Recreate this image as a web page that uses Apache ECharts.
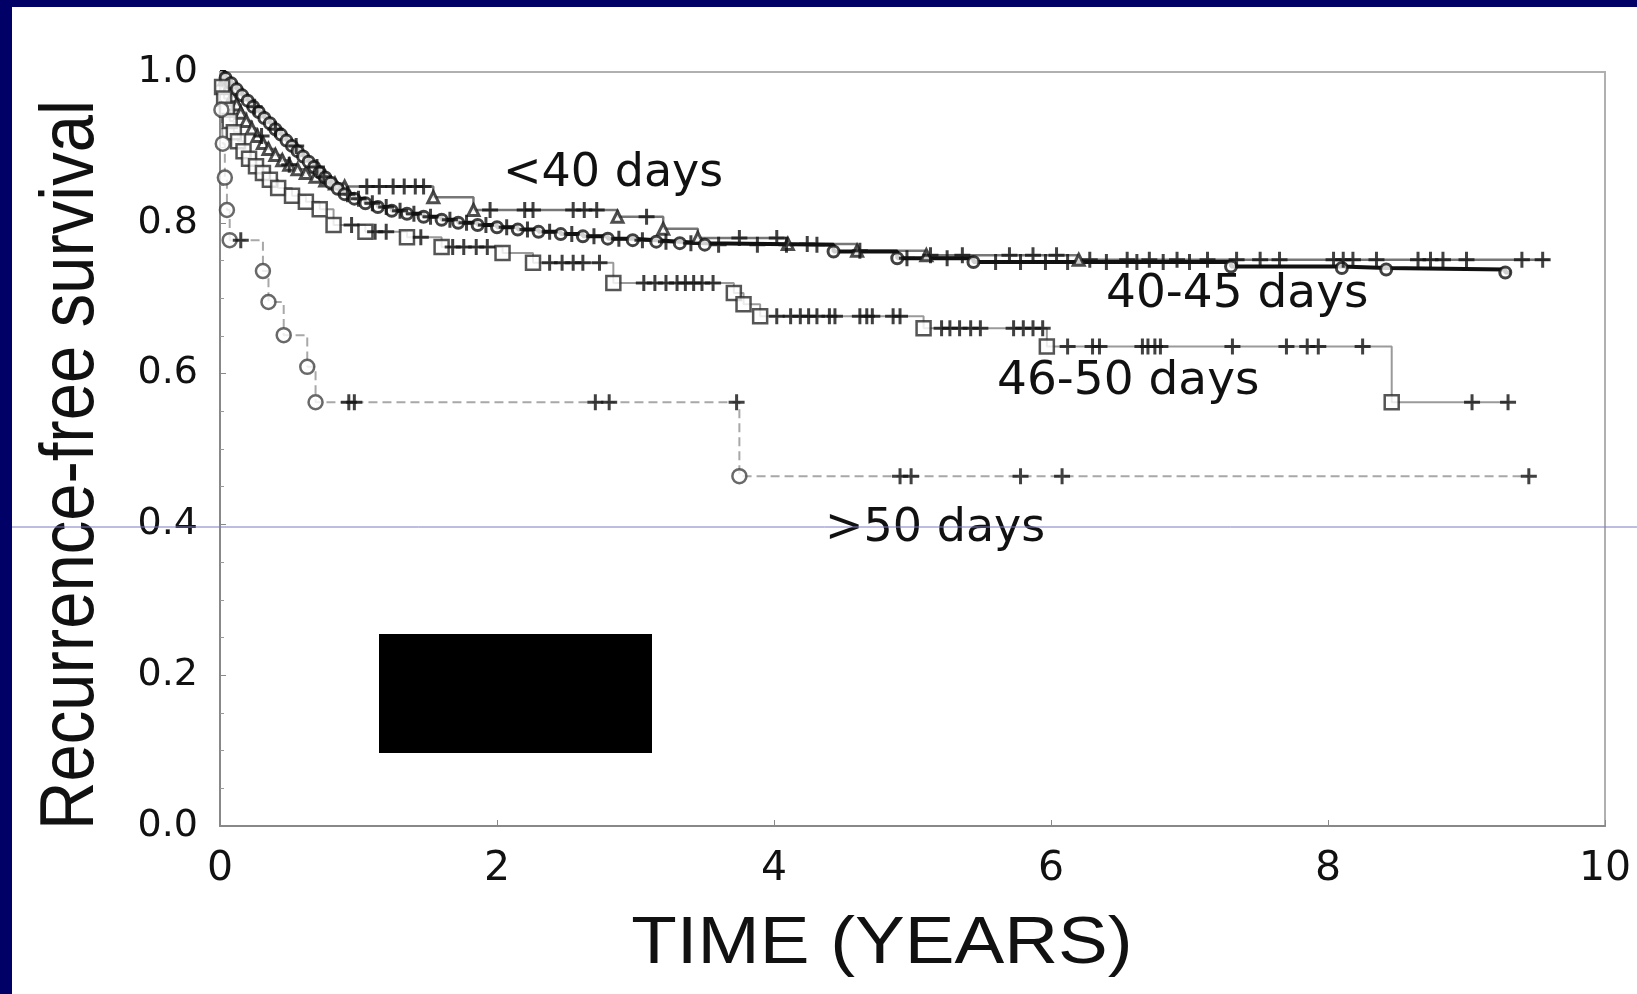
<!DOCTYPE html>
<html>
<head>
<meta charset="utf-8">
<title>Recurrence-free survival</title>
<script src="https://cdn.jsdelivr.net/npm/echarts@6/dist/echarts.min.js"></script>
<style>
    html, body { margin: 0; padding: 0; background: #fff; }
    #main { width: 1637px; height: 994px; }
</style>
</head>
<body>
<div id="main"></div>
<script>
// ---- data (time in years, survival fraction) ----
var groupNames = ['<40 days', '40-45 days', '46-50 days', '>50 days'];

// <40 days
var timeLt40 = [0, 0.03, 0.06, 0.09, 0.12, 0.15, 0.19, 0.23, 0.27, 0.31, 0.35, 0.4, 0.45, 0.5, 0.56, 0.62, 0.69, 0.76, 0.83, 0.9, 1.54, 1.83, 2.87, 3.2, 3.45, 4.1, 4.6, 5.1, 6.2];
var survLt40 = [1, 0.99, 0.979, 0.968, 0.957, 0.946, 0.935, 0.925, 0.915, 0.906, 0.898, 0.89, 0.883, 0.877, 0.871, 0.866, 0.861, 0.856, 0.852, 0.848, 0.834, 0.817, 0.808, 0.792, 0.78, 0.772, 0.763, 0.757, 0.751];
var censorLt40 = [0.3, 0.5, 0.75, 1.06, 1.15, 1.25, 1.33, 1.41, 1.47, 1.95, 2.2, 2.26, 2.55, 2.63, 2.72, 3.08, 3.75, 4.02, 4.24, 4.62, 5.13, 5.36, 5.7, 5.87, 6.04, 6.28, 6.55, 6.71, 6.91, 7.13, 7.34, 7.51, 7.65, 8.04, 8.11, 8.18, 8.35, 8.65, 8.74, 8.83, 9.0, 9.4, 9.55];
var endLt40 = 9.6;

// 40-45 days
var time4045 = [0, 0.04, 0.08, 0.12, 0.16, 0.2, 0.24, 0.28, 0.32, 0.36, 0.4, 0.44, 0.48, 0.52, 0.56, 0.6, 0.64, 0.68, 0.72, 0.76, 0.8, 0.85, 0.9, 0.97, 1.05, 1.14, 1.24, 1.35, 1.47, 1.6, 1.72, 1.86, 2.0, 2.15, 2.3, 2.46, 2.62, 2.8, 2.98, 3.15, 3.32, 3.5, 4.43, 4.89, 5.44, 7.3, 8.1, 8.42, 9.28];
var surv4045 = [1, 0.992, 0.985, 0.977, 0.969, 0.962, 0.954, 0.947, 0.939, 0.932, 0.924, 0.917, 0.909, 0.902, 0.895, 0.888, 0.881, 0.874, 0.867, 0.86, 0.853, 0.845, 0.838, 0.832, 0.826, 0.821, 0.816, 0.812, 0.808, 0.804, 0.8, 0.797, 0.794, 0.791, 0.788, 0.785, 0.782, 0.779, 0.777, 0.775, 0.773, 0.771, 0.762, 0.753, 0.748, 0.742, 0.74, 0.738, 0.734];
var censor4045 = [0.25, 0.4, 0.55, 0.7, 0.92, 1.0, 1.1, 1.2, 1.3, 1.4, 1.52, 1.66, 1.78, 1.92, 2.07, 2.22, 2.38, 2.54, 2.7, 2.88, 3.05, 3.22, 3.4, 3.6, 3.88, 4.09, 4.31, 4.96, 5.25, 5.6, 5.78, 5.96, 6.12, 6.4, 6.62, 6.81, 7.0];
var end4045 = 9.32;

// 46-50 days
var time4650 = [0, 0.015, 0.03, 0.05, 0.07, 0.1, 0.13, 0.17, 0.21, 0.26, 0.31, 0.36, 0.42, 0.52, 0.62, 0.72, 0.82, 1.05, 1.35, 1.6, 2.04, 2.26, 2.84, 3.71, 3.78, 3.9, 5.08, 5.97, 8.46];
var surv4650 = [1, 0.98, 0.965, 0.95, 0.935, 0.92, 0.908, 0.895, 0.885, 0.875, 0.866, 0.857, 0.846, 0.836, 0.828, 0.818, 0.797, 0.788, 0.781, 0.768, 0.76, 0.747, 0.72, 0.707, 0.692, 0.676, 0.66, 0.636, 0.562];
var censor4650 = [0.95, 1.12, 1.2, 1.45, 1.68, 1.76, 1.85, 1.93, 2.38, 2.47, 2.55, 2.62, 2.74, 3.06, 3.14, 3.22, 3.3, 3.36, 3.42, 3.48, 3.56, 4.02, 4.12, 4.19, 4.25, 4.31, 4.4, 4.44, 4.62, 4.67, 4.71, 4.86, 4.91, 5.21, 5.27, 5.34, 5.42, 5.49, 5.73, 5.8, 5.87, 5.94, 6.12, 6.3, 6.35, 6.66, 6.7, 6.75, 6.79, 7.31, 7.7, 7.85, 7.93, 8.25, 9.04, 9.3];
var end4650 = 9.31;

// >50 days
var timeGt50 = [0, 0.01, 0.02, 0.035, 0.05, 0.07, 0.31, 0.35, 0.46, 0.63, 0.69, 3.75];
var survGt50 = [1, 0.95, 0.905, 0.86, 0.817, 0.777, 0.736, 0.695, 0.651, 0.609, 0.562, 0.464];
var censorGt50 = [0.15, 0.93, 0.97, 2.71, 2.81, 3.73, 4.91, 4.99, 5.78, 6.08, 9.45];
var endGt50 = 9.45;

// axes
var xTicks = [0, 2, 4, 6, 8, 10];
var yTicks = [0, 0.2, 0.4, 0.6, 0.8, 1.0];

! function() {
    'use strict'
    var chart = echarts.init(document.getElementById('main'));

    // "+" used for censored cases
    var plusPath = 'path://M6.5,0h3v6.5h6.5v3h-6.5v6.5h-3v-6.5h-6.5v-3h6.5z';

    // survival value at time t (step function)
    function survAt(ts, ss, t) {
        var v = ss[0];
        for (var i = 0; i < ts.length; i++) {
            if (ts[i] <= t) v = ss[i];
        }
        return v;
    }
    function stepData(ts, ss, end) {
        var pts = ts.map(function(t, i) { return [t, ss[i]]; });
        pts.push([end, ss[ss.length - 1]]);
        return pts;
    }
    function eventData(ts, ss) {
        return ts.slice(1).map(function(t, i) { return [t, ss[i + 1]]; });
    }
    function censorData(ts, ss, cs) {
        return cs.map(function(t) { return [t, survAt(ts, ss, t)]; });
    }

    var groups = [
        { t: timeLt40, s: survLt40, c: censorLt40, end: endLt40, line: { color: '#777', width: 2.5 }, sym: 'triangle', size: 11, mark: '#222', bw: 3 },
        { t: time4045, s: surv4045, c: censor4045, end: end4045, line: { color: '#111', width: 4 }, sym: 'circle', size: 11, mark: '#111', bw: 3 },
        { t: time4650, s: surv4650, c: censor4650, end: end4650, line: { color: '#9a9a9a', width: 2 }, sym: 'rect', size: 14, mark: '#2a2a2a', bw: 2.5 },
        { t: timeGt50, s: survGt50, c: censorGt50, end: endGt50, line: { color: '#a8a8a8', width: 2, type: [9, 5] }, sym: 'circle', size: 14, mark: '#444', bw: 2.5 }
    ];

    var series = [];
    groups.forEach(function(g, k) {
        series.push({
            name: groupNames[k],
            type: 'line',
            step: 'end',
            showSymbol: false,
            silent: true,
            lineStyle: g.line,
            data: stepData(g.t, g.s, g.end),
            z: 2
        });
    });
    groups.forEach(function(g, k) {
        series.push({
            name: groupNames[k] + ' events',
            type: 'scatter',
            symbol: g.sym,
            symbolSize: g.size,
            itemStyle: { color: '#fff', borderColor: g.mark, borderWidth: g.bw },
            data: eventData(g.t, g.s),
            z: 3
        });
        series.push({
            name: groupNames[k] + ' censored',
            type: 'scatter',
            symbol: plusPath,
            symbolSize: 16,
            itemStyle: { color: '#111' },
            data: censorData(g.t, g.s, g.c),
            z: 4
        });
    });

    var option = {
        backgroundColor: '#fff',
        animation: false,
        grid: {
            left: 220,
            right: 32,
            top: 72,
            bottom: 168,
            show: true,
            borderColor: '#b0b0b0',
            borderWidth: 2
        },
        xAxis: {
            type: 'value',
            min: xTicks[0],
            max: xTicks[xTicks.length - 1],
            interval: xTicks[1] - xTicks[0],
            axisLine: { show: true, lineStyle: { color: '#888', width: 2 } },
            axisTick: { show: true, inside: true, length: 6, lineStyle: { color: '#888' } },
            splitLine: { show: false },
            axisLabel: { fontFamily: 'DejaVu Sans', fontSize: 41, color: '#111', margin: 23 }
        },
        yAxis: {
            type: 'value',
            min: yTicks[0],
            max: yTicks[yTicks.length - 1],
            interval: yTicks[1] - yTicks[0],
            axisLine: { show: true, lineStyle: { color: '#888', width: 2 } },
            axisTick: { show: true, inside: true, length: 6, lineStyle: { color: '#888' } },
            minorTick: { show: true, splitNumber: 4, length: 4, lineStyle: { color: '#999' } },
            splitLine: { show: false },
            axisLabel: {
                fontFamily: 'DejaVu Sans', fontSize: 38, color: '#111', margin: 22,
                formatter: function(v) { return v.toFixed(1); }
            }
        },
        series: series,
        graphic: [
            // navy slide frame
            { type: 'rect', shape: { x: 0, y: 0, width: 1637, height: 7 }, style: { fill: '#000066' }, z: 100 },
            { type: 'rect', shape: { x: 0, y: 0, width: 12, height: 994 }, style: { fill: '#000066' }, z: 100 },
            // covered box
            { type: 'rect', shape: { x: 379, y: 634, width: 273, height: 119 }, style: { fill: '#000' }, z: 50 },
            // group labels
            { type: 'text', x: 503, y: 174, style: { text: groupNames[0], font: '46px "DejaVu Sans"', fill: '#111', textAlign: 'left', textVerticalAlign: 'middle' }, z: 60 },
            { type: 'text', x: 1106, y: 295, style: { text: groupNames[1], font: '47px "DejaVu Sans"', fill: '#111', textAlign: 'left', textVerticalAlign: 'middle' }, z: 60 },
            { type: 'text', x: 997, y: 382, style: { text: groupNames[2], font: '47px "DejaVu Sans"', fill: '#111', textAlign: 'left', textVerticalAlign: 'middle' }, z: 60 },
            { type: 'text', x: 825, y: 529, style: { text: groupNames[3], font: '46px "DejaVu Sans"', fill: '#111', textAlign: 'left', textVerticalAlign: 'middle' }, z: 60 },
            // axis titles
            { type: 'text', x: 882, y: 945, scaleX: 1.13, style: { text: 'TIME (YEARS)', font: '66px "Liberation Sans"', fill: '#111', textAlign: 'center', textVerticalAlign: 'middle' }, z: 60 },
            { type: 'text', x: 72, y: 465, rotation: Math.PI / 2, scaleY: 1.13, style: { text: 'Recurrence-free survival', font: '67px "Liberation Sans"', fill: '#111', textAlign: 'center', textVerticalAlign: 'middle' }, z: 60 },
            // thin blue rule across the slide
            { type: 'line', shape: { x1: 12, y1: 527, x2: 1637, y2: 527 }, style: { stroke: '#7a7ac4', lineWidth: 1 }, z: 90 }
        ]
    };
    chart.setOption(option);
}()
</script>
</body>
</html>
